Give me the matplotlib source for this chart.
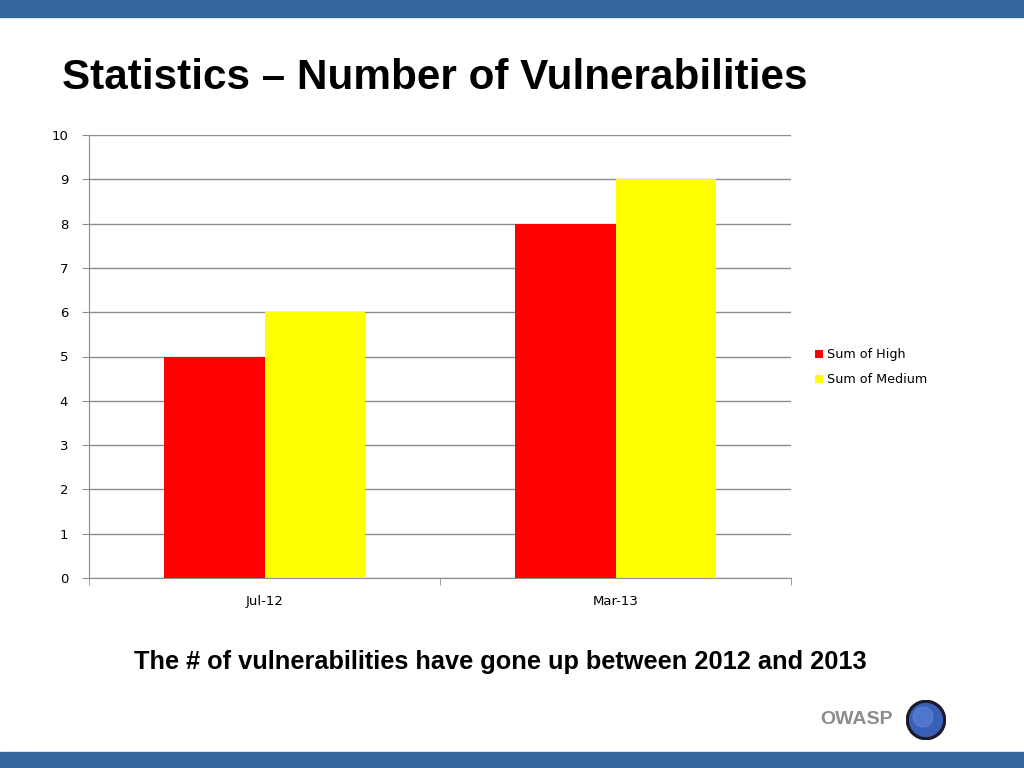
import matplotlib.pyplot as plt
from matplotlib.patches import Rectangle, Circle

# 数据
categories = ['Jul-12', 'Mar-13']
high_values = [5, 8]
medium_values = [6, 9]
series_names = ['Sum of High', 'Sum of Medium']
series_colors = ['#FF0000', '#FFFF00']

W, H = 1024, 768
fig = plt.figure(figsize=(W / 100, H / 100), dpi=100)
fig.patch.set_facecolor('white')

# 上下蓝色条
band = '#33669A'
fig.patches.append(Rectangle((0, 1 - 17 / H), 1, 17 / H, transform=fig.transFigure,
                             color=band, zorder=0))
fig.patches.append(Rectangle((0, 0), 1, 16 / H, transform=fig.transFigure,
                             color=band, zorder=0))

# 标题
fig.text(62 / W, 1 - 89 / H, 'Statistics \u2013 Number of Vulnerabilities',
         fontsize=30.4, fontweight='bold', family='Liberation Sans',
         ha='left', va='baseline', color='black')

# 图表区域
ax = fig.add_axes([89 / W, 1 - 578 / H, (791 - 89) / W, (578 - 135) / H])
x = list(range(len(categories)))
bw = 0.285
ax.bar([i - bw / 2 for i in x], high_values, width=bw, color=series_colors[0],
       label=series_names[0], zorder=3)
ax.bar([i + bw / 2 for i in x], medium_values, width=bw, color=series_colors[1],
       label=series_names[1], zorder=3)

ax.set_xlim(-0.5, len(categories) - 0.5)
ax.set_ylim(0, 10)
ax.set_yticks(range(0, 11))
ax.yaxis.grid(True, color='#8C8C8C', linewidth=1, zorder=0)
ax.set_axisbelow(True)
for s in ['top', 'right']:
    ax.spines[s].set_visible(False)
for s in ['left', 'bottom']:
    ax.spines[s].set_color('#8C8C8C')
ax.tick_params(axis='y', length=5, color='#8C8C8C', labelsize=9.5, pad=10)
ax.set_xticks(x)
ax.set_xticklabels(categories, fontsize=9.5)
ax.tick_params(axis='x', length=0, pad=12)
# 分类分隔刻度
ax.set_xticks([-0.5 + i for i in range(len(categories) + 1)], minor=True)
ax.tick_params(axis='x', which='minor', length=5, color='#8C8C8C')

leg = ax.legend(loc='upper left', bbox_to_anchor=(1.018, 0.545), frameon=False,
                fontsize=9.2, handlelength=0.6, handleheight=0.6, handletextpad=0.3,
                labelspacing=0.95)

# 结论文字
fig.text(500 / W, 1 - 662 / H,
         'The # of vulnerabilities have gone up between 2012 and 2013',
         fontsize=18.3, fontweight='bold', family='Liberation Sans',
         ha='center', va='center', color='black')

# OWASP 标志
fig.text(893 / W, 1 - 720 / H, 'OWASP', fontsize=14, fontweight='bold',
         family='Liberation Sans', ha='right', va='center', color='#8C8C8C')
logo = fig.add_axes([906 / W, 1 - 740 / H, 40 / W, 40 / H])
logo.set_xlim(-1, 1)
logo.set_ylim(-1, 1)
logo.set_aspect('equal')
logo.axis('off')
logo.add_patch(Circle((0, 0), 0.98, color='#1A1A2A'))
logo.add_patch(Circle((0, 0), 0.82, color='#3A5FB8'))
logo.add_patch(Circle((-0.15, 0.15), 0.5, color='#5C80D6', alpha=0.7))

plt.savefig('out.png', dpi=100)
plt.close()
